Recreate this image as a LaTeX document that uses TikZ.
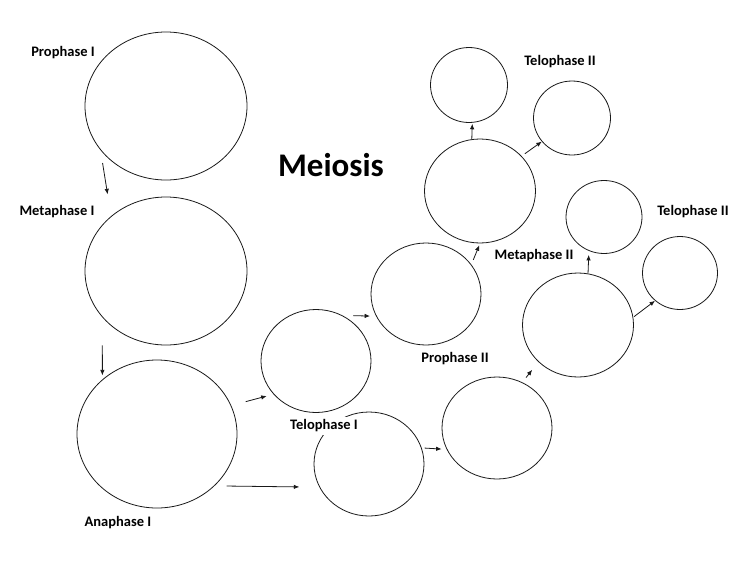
\documentclass[tikz,border=0pt]{standalone}
\usepackage{fontspec}
\setmainfont{Carlito}
\usetikzlibrary{arrows.meta,shapes}

\begin{document}
\begin{tikzpicture} [x=1pt, y=-1pt,
       >={Latex[length=5.5pt,width=4.5pt]}, black!90, text=black, line width=0.8pt,
	   every node/.style={font=\bfseries\fontsize{14.5}{16}\selectfont},
	   cell/.style 2 args = {ellipse, draw, minimum width=#1, minimum height=#2, inner sep=0pt},
	   stage/.style = {fill=white, inner sep=3pt},
	   link/.style 2 args = {->, shorten <=#1, shorten >=#2}]
	\useasboundingbox (0,0) rectangle (736,568);

	%% Meiosis I
	\node [cell={162pt}{148pt}] (pro1) at (166,106) {};
	\node [cell={162pt}{148pt}] (meta1) at (166,271) {};
	\node [cell={160pt}{148pt}] (ana1) at (157,434) {};
	\node [cell={110pt}{103pt}] (telo1a) at (316,361) {};
	\node [cell={110pt}{104pt}] (telo1b) at (369,464) {};

	%% Meiosis II
	\node [cell={110pt}{102pt}] (pro2a) at (426,294) {};
	\node [cell={110pt}{102pt}] (pro2b) at (497,428) {};
	\node [cell={111pt}{104pt}] (meta2a) at (480,191) {};
	\node [cell={111pt}{104pt}] (meta2b) at (578,325) {};
	\node [cell={77pt}{75pt}] (telo2a) at (469,85) {};
	\node [cell={77pt}{74pt}] (telo2b) at (572,118) {};
	\node [cell={76pt}{73pt}] (telo2c) at (604,217) {};
	\node [cell={75pt}{73pt}] (telo2d) at (680,273) {};

	%% Labels
	\node [stage] (lpro1) at (63,53) {Prophase I};
	\node [stage] (lmeta1) at (57,212) {Metaphase I};
	\node [stage] (lana1) at (118,523) {Anaphase I};
	\node [stage] (ltelo1) at (324,426) {Telophase I};
	\node [stage] (lpro2) at (455,359) {Prophase II};
	\node [stage] (lmeta2) at (534,256) {Metaphase II};
	\node [stage] (ltelo2a) at (560,62) {Telophase II};
	\node [stage] (ltelo2b) at (693,212) {Telophase II};
	\node [font=\bfseries\fontsize{33}{36}\selectfont] (title) at (331,165) {Meiosis};

	%% Paths
	\draw [link={13pt}{22pt}] (pro1.214) -- (meta1.135);
	\draw [link={28pt}{4pt}] (meta1.216) -- (ana1.135);
	\draw [link={15pt}{7pt}] (ana1.21) -- (telo1a.218);
	\draw [link={12pt}{20pt}] (ana1.-42) -- (telo1b.205);
	\draw [link={11pt}{6pt}] (telo1a.60) -- (pro2a.204);
	\draw [link={3pt}{5pt}] (telo1b.17) -- (pro2b.203);
	\draw [link={5pt}{2pt}] (pro2a.33) -- (meta2a.270);
	\draw [link={0pt}{1pt}] (meta2a.99) -- (telo2a.275);
	\draw [link={4pt}{0pt}] (meta2a.40) -- (telo2b.218);
	\draw [link={6pt}{10pt}] (pro2b.61) -- (meta2b.223);
	\draw [link={0pt}{4pt}] (meta2b.79) -- (telo2c.246);
	\draw [link={1pt}{0pt}] (meta2b.8) -- (telo2d.228);
\end{tikzpicture}
\end{document}
